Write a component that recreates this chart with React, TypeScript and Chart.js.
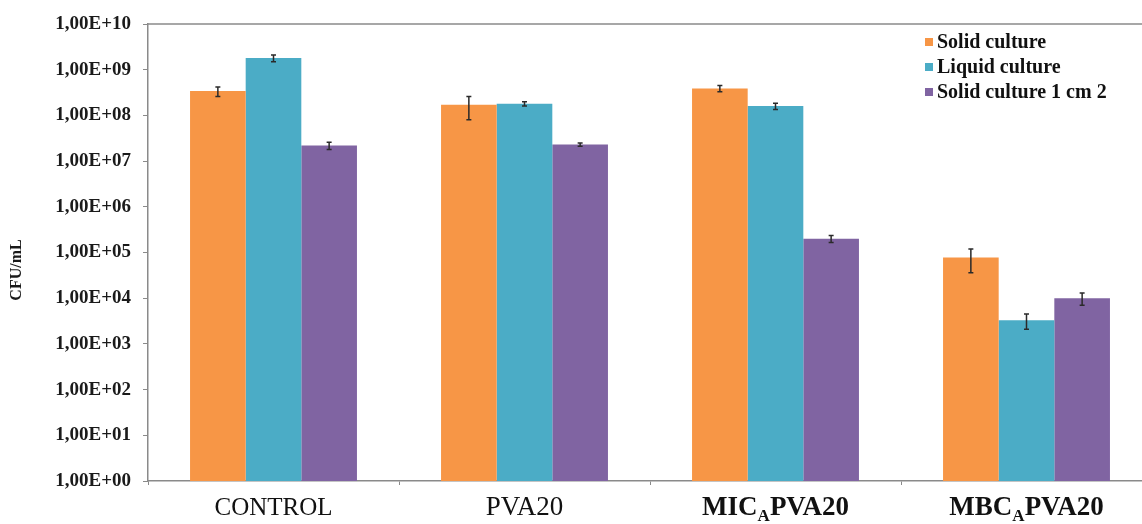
import React, { useEffect, useRef } from "react";
import { Chart, registerables } from "chart.js";

Chart.register(...registerables);

const categories = ["CONTROL", "PVA20", "MIC_APVA20", "MBC_APVA20"];
const seriesNames = ["Solid culture", "Liquid culture", "Solid culture 1 cm 2"];
const solidCulture = [3.4e8, 1.7e8, 3.9e8, 7.8e4];
const solidCultureErr = [0.8e8, 0.9e8, 0.6e8, 4.2e4];
const liquidCulture = [1.8e9, 1.8e8, 1.6e8, 3.3e3];
const liquidCultureErr = [0.3e9, 0.2e8, 0.25e8, 1.2e3];
const solidCulture1cm = [2.2e7, 2.3e7, 2.0e5, 1.0e4];
const solidCulture1cmErr = [0.4e7, 0.2e7, 0.35e5, 0.3e4];
const yTickExponents = [0, 1, 2, 3, 4, 5, 6, 7, 8, 9, 10];
const colors = ["#F79646", "#4BACC6", "#8064A2"];
const errors = [solidCultureErr, liquidCultureErr, solidCulture1cmErr];

const SERIF = '"Liberation Serif", "Times New Roman", serif';
const AXIS_COLOR = "#8a8a8a";

const fmtTick = (v: number) => {
  const e = Math.round(Math.log10(v));
  return "1,00E+" + (e < 10 ? "0" + e : String(e));
};

const customPlugin = {
  id: "custom",
  beforeDraw(chart: any) {
    const ctx = chart.ctx;
    ctx.save();
    ctx.fillStyle = "#ffffff";
    ctx.fillRect(0, 0, chart.width, chart.height);
    ctx.restore();
  },
  afterDatasetsDraw(chart: any) {
    const ctx = chart.ctx;
    const y = chart.scales.y;
    ctx.save();
    ctx.strokeStyle = "#2a2a2a";
    ctx.lineWidth = 1.5;
    chart.data.datasets.forEach((ds: any, di: number) => {
      const meta = chart.getDatasetMeta(di);
      meta.data.forEach((bar: any, i: number) => {
        const v = ds.data[i];
        const err = errors[di][i];
        const yTop = y.getPixelForValue(v + err);
        const yBot = y.getPixelForValue(Math.max(v - err, 1));
        const x = bar.x;
        ctx.beginPath();
        ctx.moveTo(x, yTop);
        ctx.lineTo(x, yBot);
        ctx.moveTo(x - 2.5, yTop);
        ctx.lineTo(x + 2.5, yTop);
        ctx.moveTo(x - 2.5, yBot);
        ctx.lineTo(x + 2.5, yBot);
        ctx.stroke();
      });
    });
    ctx.restore();
  },
  afterDraw(chart: any) {
    const ctx = chart.ctx;
    const area = chart.chartArea;
    const xs = chart.scales.x;
    ctx.save();
    ctx.strokeStyle = AXIS_COLOR;
    ctx.lineWidth = 1.5;
    ctx.beginPath();
    ctx.moveTo(area.left, area.top);
    ctx.lineTo(area.right, area.top);
    ctx.lineTo(area.right, area.bottom);
    ctx.stroke();

    ctx.save();
    ctx.translate(17, 270);
    ctx.rotate(-Math.PI / 2);
    ctx.fillStyle = "#1a1a1a";
    ctx.font = "bold 16px " + SERIF;
    ctx.textAlign = "center";
    ctx.textBaseline = "middle";
    ctx.fillText("CFU/mL", 0, 0);
    ctx.restore();

    categories.forEach((lab, i) => {
      const cx = xs.getPixelForValue(i);
      const parts = lab.split("_");
      const bold = parts.length > 1;
      const size = i === 0 ? 25 : 27;
      const mainFont = (bold ? "bold " : "") + size + "px " + SERIF;
      const subFont = (bold ? "bold " : "") + "17px " + SERIF;
      ctx.fillStyle = "#111";
      ctx.textBaseline = "alphabetic";
      ctx.textAlign = "left";
      const baseY = 515;
      if (parts.length === 1) {
        ctx.font = mainFont;
        const w = ctx.measureText(lab).width;
        ctx.fillText(lab, cx - w / 2, baseY);
      } else {
        const a = parts[0];
        const sub = parts[1].charAt(0);
        const rest = parts[1].slice(1);
        ctx.font = mainFont;
        const wa = ctx.measureText(a).width;
        const wr = ctx.measureText(rest).width;
        ctx.font = subFont;
        const ws = ctx.measureText(sub).width;
        const total = wa + ws + wr;
        let x = cx - total / 2;
        ctx.font = mainFont;
        ctx.fillText(a, x, baseY);
        x += wa;
        ctx.font = subFont;
        ctx.fillText(sub, x, baseY + 6);
        x += ws;
        ctx.font = mainFont;
        ctx.fillText(rest, x, baseY);
      }
    });

    const rows = [42, 67, 92];
    seriesNames.forEach((name, i) => {
      ctx.fillStyle = colors[i];
      ctx.fillRect(925, rows[i] - 4, 8, 8);
      ctx.fillStyle = "#111";
      ctx.font = "bold 20px " + SERIF;
      ctx.textAlign = "left";
      ctx.textBaseline = "middle";
      ctx.fillText(name, 937, rows[i] + 1);
    });
    ctx.restore();
  },
};

export default function App() {
  const ref = useRef<HTMLCanvasElement | null>(null);
  useEffect(() => {
    if (!ref.current) return;
    const chart = new Chart(ref.current, {
      type: "bar",
      data: {
        labels: categories,
        datasets: [
          { label: seriesNames[0], data: solidCulture, backgroundColor: colors[0] },
          { label: seriesNames[1], data: liquidCulture, backgroundColor: colors[1] },
          { label: seriesNames[2], data: solidCulture1cm, backgroundColor: colors[2] },
        ],
      },
      options: {
        responsive: false,
        animation: false,
        layout: { padding: { top: 24, right: 8, left: 0, bottom: 0 } },
        datasets: { bar: { barPercentage: 1, categoryPercentage: 0.665, borderWidth: 0 } },
        plugins: { legend: { display: false }, tooltip: { enabled: false } },
        scales: {
          x: {
            ticks: { display: false },
            grid: { display: true, drawOnChartArea: false, tickLength: 4, color: AXIS_COLOR, offset: true },
            border: { color: AXIS_COLOR, width: 1.5 },
            afterFit: (s: any) => { s.height = 43; },
          },
          y: {
            type: "logarithmic",
            min: 1,
            max: 1e10,
            afterBuildTicks: (axis: any) => {
              axis.ticks = yTickExponents.map((e) => ({ value: Math.pow(10, e) }));
            },
            ticks: {
              callback: (v: any) => fmtTick(Number(v)),
              font: { family: SERIF, size: 19, weight: "bold" },
              color: "#1a1a1a",
              padding: 12,
              autoSkip: false,
            },
            grid: { display: true, drawOnChartArea: false, tickLength: 5, color: AXIS_COLOR },
            border: { color: AXIS_COLOR, width: 1.5 },
            afterFit: (s: any) => { s.width = 148; },
          },
        },
      },
      plugins: [customPlugin],
    } as any);
    return () => chart.destroy();
  }, []);
  return (
    <div style={{ position: "fixed", left: 0, top: 0, width: 1142, height: 524, overflow: "hidden", background: "#fff" }}>
      <canvas ref={ref} width={1160} height={524} style={{ display: "block", width: 1160, height: 524 }} />
    </div>
  );
}
